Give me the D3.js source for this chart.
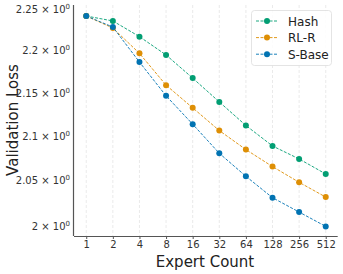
<!DOCTYPE html>
<html>
<head>
<meta charset="utf-8">
<script src="https://cdn.jsdelivr.net/npm/d3@7"></script>
<style>
  body { margin: 0; background: #fff; }
  text { font-family: "DejaVu Sans", sans-serif; }
</style>
</head>
<body>
<script>
// expert counts on the x axis
var experts = [1, 2, 4, 8, 16, 32, 64, 128, 256, 512];
var yTicks = [2, 2.05, 2.1, 2.15, 2.2, 2.25];

var hash  = [2.242, 2.236, 2.217, 2.195, 2.1675, 2.1396, 2.1123, 2.0889, 2.0742, 2.0573];
var rlr   = [2.242, 2.2274, 2.1969, 2.1592, 2.1327, 2.1065, 2.0848, 2.0656, 2.048, 2.0316];
var sbase = [2.242, 2.2286, 2.1865, 2.1467, 2.1138, 2.0806, 2.0547, 2.0309, 2.0151, 1.9994];

var series = [
  {name: "Hash", values: hash, color: "#029e73"},
  {name: "RL-R", values: rlr, color: "#de8f05"},
  {name: "S-Base", values: sbase, color: "#0173b2"}
];

var W = 343, H = 274;
var svg = d3.select("body").append("svg")
    .attr("width", W)
    .attr("height", H);

var x = d3.scaleLog().base(2)
  .domain([Math.pow(2, -0.46), Math.pow(2, 9.45)])
  .range([74, 337.7]);

var y = d3.scaleLog()
  .domain([1.989, 2.2555])
  .range([236, 5]);

// vertical dashed grid
svg.append("g")
  .selectAll("line")
  .data(experts)
  .enter()
  .append("line")
    .attr("x1", function(d) { return x(d); })
    .attr("x2", function(d) { return x(d); })
    .attr("y1", 5)
    .attr("y2", 236)
    .style("stroke", "#e4e4e4")
    .style("stroke-width", 0.8)
    .style("stroke-dasharray", "3,2");

var xAxis = d3.axisBottom(x)
  .tickValues(experts)
  .tickFormat(function(d) { return d; })
  .tickSize(3)
  .tickPadding(2);

var gx = svg.append("g")
  .attr("transform", "translate(0,236)")
  .call(xAxis);
gx.select(".domain").attr("d", "M74,0.5H337.7").style("stroke", "#555").style("stroke-width", 1.2);
gx.selectAll(".tick line").style("stroke", "#555");
gx.selectAll(".tick text").style("font-size", "10px").style("fill", "#333");

var yAxis = d3.axisLeft(y)
  .tickValues(yTicks)
  .tickSize(0)
  .tickPadding(4)
  .tickFormat(function() { return ""; });

var gy = svg.append("g")
  .attr("transform", "translate(74,0)")
  .call(yAxis);
gy.select(".domain").attr("d", "M-0.5,5V236").style("stroke", "#555").style("stroke-width", 1.2);
gy.selectAll(".tick text")
  .style("font-size", "10px")
  .style("fill", "#333")
  .attr("x", -4)
  .each(function(d) {
    var t = d3.select(this);
    t.append("tspan").text(d3.format("")(d) + " \u00d7 10");
    t.append("tspan").attr("dy", -4).style("font-size", "7px").text("0");
  });

// series
var line = d3.line()
  .x(function(d, i) { return x(experts[i]); })
  .y(function(d) { return y(d); });

series.forEach(function(s) {
  svg.append("path")
    .datum(s.values)
    .attr("d", line)
    .style("fill", "none")
    .style("stroke", s.color)
    .style("stroke-width", 0.9)
    .style("stroke-dasharray", "3,1.5");
  svg.append("g")
    .selectAll("circle")
    .data(s.values)
    .enter()
    .append("circle")
      .attr("cx", function(d, i) { return x(experts[i]); })
      .attr("cy", function(d) { return y(d); })
      .attr("r", 3)
      .style("fill", s.color);
});

// axis titles
svg.append("text")
  .attr("x", 205)
  .attr("y", 267)
  .style("text-anchor", "middle")
  .style("font-size", "15px")
  .style("fill", "#222")
  .text("Expert Count");

svg.append("text")
  .attr("transform", "translate(18,120) rotate(-90)")
  .style("text-anchor", "middle")
  .style("font-size", "15px")
  .style("fill", "#222")
  .text("Validation Loss");

// legend
var lg = svg.append("g");
lg.append("rect")
  .attr("x", 251.5)
  .attr("y", 10.5)
  .attr("width", 80)
  .attr("height", 55)
  .attr("rx", 3)
  .style("fill", "#fff")
  .style("fill-opacity", 0.85)
  .style("stroke", "#ddd")
  .style("stroke-width", 0.8);

var rows = lg.selectAll(".row")
  .data(series)
  .enter()
  .append("g")
    .attr("transform", function(d, i) { return "translate(0," + (21 + i * 16.6) + ")"; });
rows.append("line")
  .attr("x1", 256).attr("x2", 278)
  .attr("y1", 0).attr("y2", 0)
  .style("stroke", function(d) { return d.color; })
  .style("stroke-width", 0.9)
  .style("stroke-dasharray", "3,1.5");
rows.append("circle")
  .attr("cx", 267).attr("cy", 0).attr("r", 3)
  .style("fill", function(d) { return d.color; });
rows.append("text")
  .attr("x", 288)
  .attr("y", 4.5)
  .style("font-size", "12px")
  .style("fill", "#222")
  .text(function(d) { return d.name; });
</script>
</body>
</html>
